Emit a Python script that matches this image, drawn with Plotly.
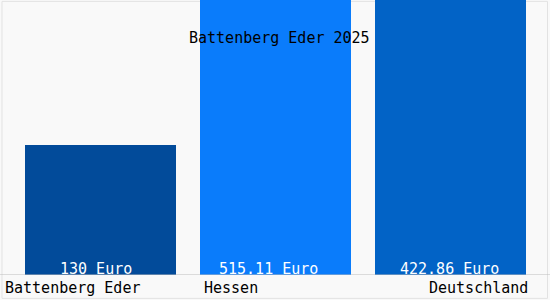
import plotly.graph_objects as go

categories = ["Battenberg Eder", "Hessen", "Deutschland"]
values = [130, 515.11, 422.86]
value_labels = ["130 Euro", "515.11 Euro", "422.86 Euro"]
colors = ["#024b9a", "#0a7cfb", "#0263c6"]
title_text = "Battenberg Eder 2025"

FONT = "DejaVu Sans Mono"
FS = 15
x_pos = list(range(len(categories)))

fig = go.Figure()
fig.add_trace(go.Bar(
    x=x_pos, y=values, width=0.863,
    marker=dict(color=colors, line=dict(width=0)),
    hoverinfo="skip",
))

# value labels at bar bottoms
label_shifts = [-5, -7, -1.5]
for xi, lab, sh in zip(x_pos, value_labels, label_shifts):
    fig.add_annotation(x=xi, y=0, xref="x", yref="y", text=lab, showarrow=False,
                       xanchor="center", yanchor="bottom", xshift=sh, yshift=-5,
                       font=dict(family=FONT, size=FS, color="white"))

# category labels below axis
anchors = ["left", "left", "right"]
shifts = [-98, -74, 79]
for xi, cat, an, sh in zip(x_pos, categories, anchors, shifts):
    fig.add_annotation(x=xi, y=0, xref="x", yref="y", text=cat, showarrow=False,
                       xanchor=an, yanchor="top", xshift=sh, yshift=-2,
                       font=dict(family=FONT, size=FS, color="black"))

fig.add_annotation(x=0.509, y=1 - 38/275, xref="paper", yref="paper", text=title_text,
                   showarrow=False, xanchor="center", yanchor="middle",
                   font=dict(family=FONT, size=FS, color="black"))

# frame lines
fig.add_shape(type="rect", xref="paper", yref="paper", x0=0.0036, x1=0.9955,
              y0=-0.085, y1=0.995, line=dict(color="#e2e2e2", width=1), layer="below")
fig.add_shape(type="line", xref="paper", yref="y", x0=0, x1=1, y0=0, y1=0,
              line=dict(color="#bdbdbd", width=1))

fig.update_layout(
    width=550, height=300,
    margin=dict(l=0, r=0, t=0, b=25),
    paper_bgcolor="#f9f9f9", plot_bgcolor="#f9f9f9",
    showlegend=False,
    xaxis=dict(range=[-100.5/175, (550-100.5)/175], visible=False, fixedrange=True),
    yaxis=dict(range=[0, 275], visible=False, fixedrange=True),
    bargap=0,
)
fig.write_html("out.html", config={"displayModeBar": False})
